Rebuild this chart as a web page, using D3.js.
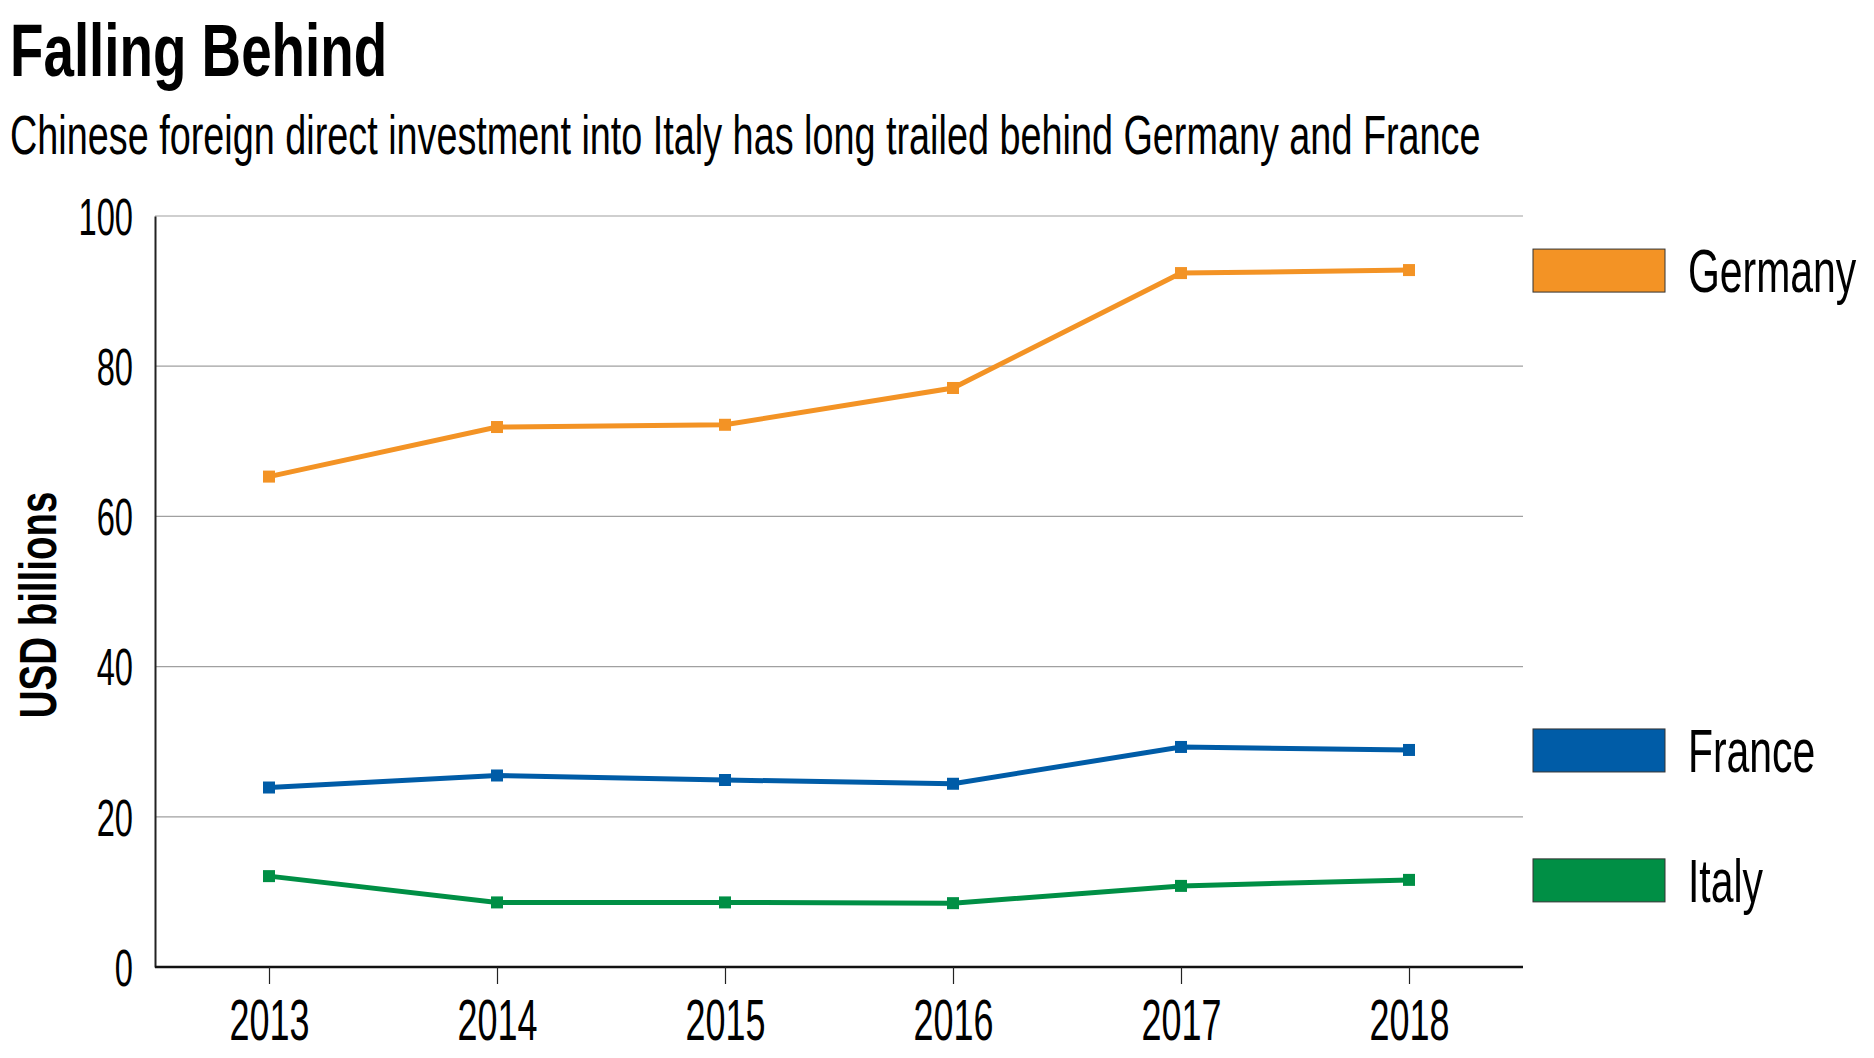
<!DOCTYPE html>
<html>
<head>
<meta charset="utf-8">
<title>Falling Behind</title>
<script src="https://d3js.org/d3.v7.min.js"></script>
<style>
  body { margin: 0; background: #fff; }
  svg { display: block; font-family: "Liberation Sans", Arial, sans-serif; }
</style>
</head>
<body>
<script>
// data (USD billions)
var years = ["2013", "2014", "2015", "2016", "2017", "2018"];
var germany = [65.3, 71.9, 72.2, 77.1, 92.4, 92.8];
var france = [23.9, 25.5, 24.9, 24.4, 29.3, 28.9];
var italy = [12.1, 8.6, 8.6, 8.5, 10.8, 11.6];
var seriesNames = ["Germany", "France", "Italy"];
var yTicks = [0, 20, 40, 60, 80, 100];

var colors = { Germany: "#f39325", France: "#005ca7", Italy: "#008f45" };
var values = { Germany: germany, France: france, Italy: italy };

var W = 1874, H = 1058;
var plotL = 155, plotR = 1523, plotT = 216, plotB = 967;

var svg = d3.select("body").append("svg")
    .attr("width", W)
    .attr("height", H);

svg.append("rect").attr("width", W).attr("height", H).attr("fill", "#fff");

// condensed text: scale horizontally around the anchor point
function ctext(g, x, y, str, size, sx, anchor, weight) {
  return g.append("text")
    .attr("transform", "translate(" + x + "," + y + ") scale(" + sx + ",1)")
    .attr("text-anchor", anchor || "start")
    .attr("font-size", size)
    .attr("font-weight", weight || "normal")
    .attr("fill", "#000")
    .text(str);
}

// title + subtitle
ctext(svg, 10, 76, "Falling Behind", 75, 0.73, "start", "bold");
ctext(svg, 10, 154, "Chinese foreign direct investment into Italy has long trailed behind Germany and France", 56, 0.675);

var x = d3.scalePoint().domain(years).range([plotL, plotR]).padding(0.5);
var y = d3.scaleLinear().domain([0, 100]).range([plotB, plotT]);

// gridlines
svg.append("g").selectAll("line")
  .data(yTicks.filter(function(d) { return d > 0; }))
  .join("line")
    .attr("x1", plotL).attr("x2", plotR)
    .attr("y1", function(d) { return y(d); })
    .attr("y2", function(d) { return y(d); })
    .attr("stroke", "#a0a0a0")
    .attr("stroke-width", 1.2);

// y axis
var yAxis = svg.append("g")
    .attr("transform", "translate(" + plotL + ",0)")
    .call(d3.axisLeft(y).tickValues(yTicks).tickSize(0).tickPadding(0));
yAxis.select(".domain").attr("stroke", "#222").attr("stroke-width", 2);
yAxis.selectAll("text")
    .attr("font-family", "Liberation Sans, Arial, sans-serif")
    .attr("font-size", 51)
    .attr("fill", "#000")
    .attr("dy", "0.36em")
    .attr("x", -22 / 0.64)
    .attr("transform", "scale(0.64,1)");

// x axis
var xAxis = svg.append("g")
    .attr("transform", "translate(0," + plotB + ")")
    .call(d3.axisBottom(x).tickSize(17).tickPadding(15).tickSizeOuter(0));
xAxis.select(".domain").attr("stroke", "#111").attr("stroke-width", 2.5)
    .attr("d", "M" + plotL + ",0H" + plotR);
xAxis.selectAll(".tick line").attr("stroke", "#222").attr("stroke-width", 1.2);
xAxis.selectAll("text")
    .attr("font-family", "Liberation Sans, Arial, sans-serif")
    .attr("font-size", 58)
    .attr("fill", "#000")
    .attr("transform", "scale(0.62,1)");

// y axis title
svg.append("text")
    .attr("transform", "translate(56,605) rotate(-90) scale(0.74,1)")
    .attr("text-anchor", "middle")
    .attr("font-size", 52)
    .attr("font-weight", "bold")
    .text("USD billions");

// lines + markers
var line = d3.line()
    .x(function(d, i) { return x(years[i]); })
    .y(function(d) { return y(d); });

seriesNames.forEach(function(name) {
  var vals = values[name];
  svg.append("path")
      .attr("d", line(vals))
      .attr("fill", "none")
      .attr("stroke", colors[name])
      .attr("stroke-width", 5);
  svg.append("g").selectAll("rect")
    .data(vals)
    .join("rect")
      .attr("x", function(d, i) { return x(years[i]) - 6; })
      .attr("y", function(d) { return y(d) - 6; })
      .attr("width", 12)
      .attr("height", 12)
      .attr("fill", colors[name]);

  // legend entry at the level of the last value
  var ly = y(vals[vals.length - 1]);
  svg.append("rect")
      .attr("x", 1533).attr("y", ly - 21)
      .attr("width", 132).attr("height", 43)
      .attr("fill", colors[name])
      .attr("stroke", "#333").attr("stroke-width", 1);
  ctext(svg, 1688, ly + 22, name, 62, 0.66);
});
</script>
</body>
</html>
